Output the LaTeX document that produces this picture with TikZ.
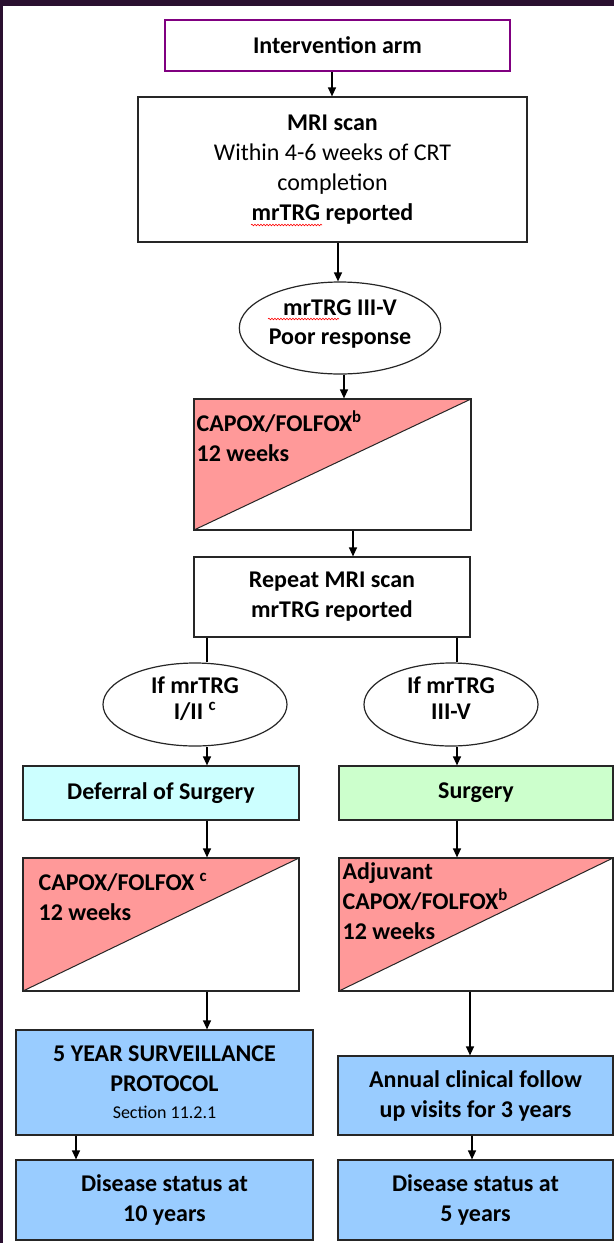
\documentclass[tikz,border=0pt]{standalone}
\usepackage{fontspec}
\setmainfont{Carlito}
\usetikzlibrary{arrows.meta,shapes.geometric,decorations.pathmorphing,calc}
\definecolor{framecol}{HTML}{2A1030}
\definecolor{purpc}{HTML}{800080}
\definecolor{pinkc}{HTML}{FF9999}
\definecolor{cyanc}{HTML}{CCFFFF}
\definecolor{greenc}{HTML}{CCFFCC}
\definecolor{bluec}{HTML}{99CCFF}
\tikzset{
  box/.style={draw=black!85, line width=1.2pt, rectangle, inner sep=0pt, align=center,
    font=\fontsize{24}{30}\selectfont\bfseries},
  oval/.style={draw=black!85, line width=1.2pt, ellipse, inner sep=0pt, align=center,
    font=\fontsize{24}{29}\selectfont\bfseries},
  ovalb/.style={oval, font=\fontsize{24}{26}\selectfont\bfseries},
  halfbox/.style={draw=black!85, line width=1.2pt, rectangle, inner sep=0pt, fill=white,
    path picture={
      \fill[pinkc] (path picture bounding box.north west) -- (path picture bounding box.north east)
         -- (path picture bounding box.south west) -- cycle;
      \draw[line width=1pt] (path picture bounding box.south west) -- (path picture bounding box.north east);}},
  txt/.style={inner sep=0pt, anchor=north west, align=left, font=\fontsize{24}{30}\selectfont\bfseries},
  arr/.style={line width=1.2pt, -{Triangle[length=9pt,width=8pt]}},
  ln/.style={line width=1.2pt},
  squig/.style={red, line width=0.6pt, decorate, decoration={snake, amplitude=0.8pt, segment length=3pt}}
}
\begin{document}
\begin{tikzpicture}[x=1pt,y=-1pt]
\fill[framecol] (0,0) rectangle (614,1243);
\fill[white] (3,5.5) rectangle (614,1243);
\useasboundingbox (0,0) rectangle (614,1243);

% nodes
\node[box, draw=purpc, line width=2.5pt, minimum width=345pt, minimum height=51pt] (intv) at (337.5,45.5) {Intervention arm};
\node[box, minimum width=389pt, minimum height=145pt] (mri) at (332.5,169.5)
  {MRI scan\\ {\mdseries Within 4-6 weeks of CRT}\\ {\mdseries completion}\\ mrTRG reported};
\node[oval, minimum width=196pt, minimum height=92pt] (e1) at (340,328) {mrTRG III-V\\Poor response\\[-18pt]\mbox{}};
\node[halfbox, minimum width=277pt, minimum height=131pt] (cap1) at (332.5,464.5) {};
\node[txt] (t1) at ($(cap1.north west)+(3,12)$) {CAPOX/FOLFOX\textsuperscript{b}\\12 weeks};
\node[box, minimum width=276pt, minimum height=80pt] (rep) at (332,597) {Repeat MRI scan\\mrTRG reported};

\node[ovalb, minimum width=184pt, minimum height=83pt] (e2) at (195,704.5) {If mrTRG\\I/II \textsuperscript{c}\\[-14pt]\mbox{}};
\node[ovalb, minimum width=174pt, minimum height=83pt] (e3) at (451,704.5) {If mrTRG\\III-V\\[-14pt]\mbox{}};

\node[box, fill=cyanc, minimum width=276pt, minimum height=54pt] (def) at (161,793) {Deferral of Surgery};
\node[box, fill=greenc, minimum width=274pt, minimum height=54pt] (surg) at (476,793) {Surgery};

\node[halfbox, minimum width=276pt, minimum height=133pt] (cap2) at (161,924.5) {};
\node[txt] (t2) at ($(cap2.north west)+(16,16)$) {CAPOX/FOLFOX \textsuperscript{c}\\12 weeks};
\node[halfbox, minimum width=274pt, minimum height=133pt] (cap3) at (476,924.5) {};
\node[txt] (t3) at ($(cap3.north west)+(4,5)$) {Adjuvant\\CAPOX/FOLFOX\textsuperscript{b}\\12 weeks};

\node[box, fill=bluec, minimum width=297pt, minimum height=105pt] (five) at (164.5,1082.5)
  {5 YEAR SURVEILLANCE\\PROTOCOL\\[-3pt]{\mdseries\fontsize{18}{20}\selectfont Section 11.2.1}};
\node[box, fill=bluec, minimum width=275pt, minimum height=79pt] (annual) at (475.5,1095.5)
  {Annual clinical follow\\up visits for 3 years};
\node[box, fill=bluec, minimum width=297pt, minimum height=80pt] (dis1) at (164.5,1200) {Disease status at\\10 years};
\node[box, fill=bluec, minimum width=275pt, minimum height=80pt] (dis2) at (475.5,1200) {Disease status at\\5 years};

% x positions of connectors
\coordinate (xa) at (332,0);
\coordinate (xb) at (338,0);
\coordinate (xc) at (344,0);
\coordinate (xd) at (353,0);
\coordinate (xl) at (207,0);
\coordinate (xr) at (457,0);
\coordinate (xs) at (470,0);
\coordinate (xt) at (76,0);
\coordinate (xu) at (472,0);

\draw[arr] (intv.south -| xa) -- (mri.north -| xa);
\draw[arr] (mri.south -| xb) -- (e1.north -| xb);
\draw[arr] (e1.south -| xc) -- (cap1.north -| xc);
\draw[arr] (cap1.south -| xd) -- (rep.north -| xd);
\draw[ln] (rep.south -| xl) -- (e2.north -| xl);
\draw[ln] (rep.south -| xr) -- (e3.north -| xr);
\draw[arr] (e2.south -| xl) -- (def.north -| xl);
\draw[arr] (e3.south -| xr) -- (surg.north -| xr);
\draw[arr] (def.south -| xl) -- (cap2.north -| xl);
\draw[arr] (surg.south -| xr) -- (cap3.north -| xr);
\draw[arr] (cap2.south -| xl) -- (five.north -| xl);
\draw[arr] (cap3.south -| xs) -- (annual.north -| xs);
\draw[arr] (five.south -| xt) -- (dis1.north -| xt);
\draw[arr] (annual.south -| xu) -- (dis2.north -| xu);

% spell-check underlines
\draw[squig] (251,225) -- (322,225);
\draw[squig] (268,319) -- (339,319);
\end{tikzpicture}
\end{document}
